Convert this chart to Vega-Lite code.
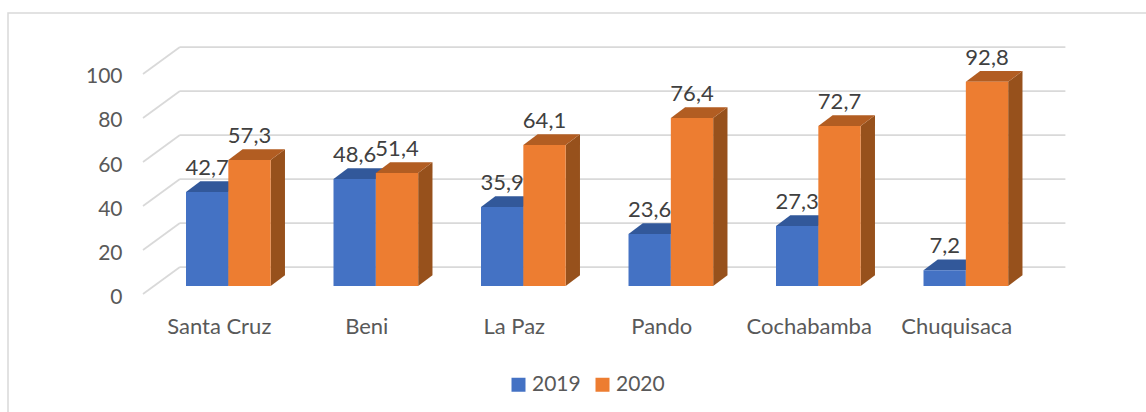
{"$schema":"https://vega.github.io/schema/vega-lite/v6.json","width":1140,"height":401,"autosize":"none","padding":{"left":8,"top":13,"right":0,"bottom":0},"background":"white","view":{"stroke":"#d9d9d9","strokeWidth":1.5,"fill":"white"},"config":{"font":"Lato"},
"datasets":{"ticks":[{"tick":0},{"tick":20},{"tick":40},{"tick":60},{"tick":80},{"tick":100}]},
"data":{"values":[
{"region":"Santa Cruz","year":"2019","value":42.7},{"region":"Santa Cruz","year":"2020","value":57.3},
{"region":"Beni","year":"2019","value":48.6},{"region":"Beni","year":"2020","value":51.4},
{"region":"La Paz","year":"2019","value":35.9},{"region":"La Paz","year":"2020","value":64.1},
{"region":"Pando","year":"2019","value":23.6},{"region":"Pando","year":"2020","value":76.4},
{"region":"Cochabamba","year":"2019","value":27.3},{"region":"Cochabamba","year":"2020","value":72.7},
{"region":"Chuquisaca","year":"2019","value":7.2},{"region":"Chuquisaca","year":"2020","value":92.8}]},
"transform":[
{"calculate":"indexof(['Santa Cruz','Beni','La Paz','Pando','Cochabamba','Chuquisaca'],datum.region)","as":"idx"},
{"calculate":"datum.idx+0.278+(datum.year=='2020'?0.287:0)","as":"xl"},
{"calculate":"datum.xl+0.287","as":"xr"},
{"calculate":"datum.xl+0.1435","as":"xc"},
{"calculate":"replace(format(datum.value,'.1f'),'.',',')","as":"label"}],
"layer":[
{"data":{"name":"ticks"},"transform":[{"calculate":"[0,1]","as":"d"},{"flatten":["d"]},{"calculate":"-0.0136+datum.d*0.2506","as":"gx"},{"calculate":"datum.tick-3.6+datum.d*12.2","as":"gy"}],
"mark":{"type":"line","stroke":"#d9d9d9","strokeWidth":1.75},
"encoding":{"x":{"field":"gx","type":"quantitative","scale":{"domain":[-0.9288,6.8],"nice":false,"zero":false},
"axis":{"title":null,"values":[0.5,1.5,2.5,3.5,4.5,5.5],"labelExpr":"['Santa Cruz','Beni','La Paz','Pando','Cochabamba','Chuquisaca'][floor(datum.value)]","domain":false,"ticks":false,"grid":false,"offset":-98,"labelPadding":0,"labelFontSize":22,"labelColor":"#595959","labelFont":"Lato","labelOverlap":false,"labelFlush":false,"labelBound":false}},
"y":{"field":"gy","type":"quantitative","scale":{"domain":[-58.18,124.09],"nice":false,"zero":false},
"axis":{"title":null,"values":[0,20,40,60,80,100],"domain":false,"ticks":false,"grid":false,"offset":-114,"labelPadding":0,"labelOffset":11,"labelFontSize":21,"labelColor":"#595959","labelFont":"Lato","labelOverlap":false,"labelBound":false}},"detail":{"field":"tick"}}},
{"data":{"name":"ticks"},"transform":[{"calculate":"datum.tick+8.6","as":"gy"}],
"mark":{"type":"rule","stroke":"#d9d9d9","strokeWidth":1.75},
"encoding":{"x":{"datum":0.237,"type":"quantitative","scale":{"domain":[-0.9288,6.8],"nice":false,"zero":false}},"x2":{"datum":6.24},"y":{"field":"gy","type":"quantitative","scale":{"domain":[-58.18,124.09],"nice":false,"zero":false}}}},
{"transform":[{"calculate":"[0,1]","as":"d"},{"flatten":["d"]},{"calculate":"datum.xr+datum.d*0.097","as":"sx"},{"calculate":"datum.value+datum.d*4.9","as":"sy"},{"calculate":"datum.d*4.9","as":"sy2"}],
"mark":{"type":"area"},
"encoding":{"x":{"field":"sx","type":"quantitative","scale":{"domain":[-0.9288,6.8],"nice":false,"zero":false}},"y":{"field":"sy","type":"quantitative","scale":{"domain":[-58.18,124.09],"nice":false,"zero":false}},"y2":{"field":"sy2"},"detail":[{"field":"region"},{"field":"year"}],"fill":{"condition":{"test":"datum.year=='2019'","value":"#2c4f8e"},"value":"#97511c"}}},
{"transform":[{"calculate":"[0,1]","as":"d"},{"flatten":["d"]},{"calculate":"datum.xl+datum.d*0.097","as":"tx"},{"calculate":"datum.xr+datum.d*0.097","as":"tx2"},{"calculate":"datum.value+datum.d*4.9","as":"ty"}],
"mark":{"type":"area","orient":"horizontal"},
"encoding":{"y":{"field":"ty","type":"quantitative","scale":{"domain":[-58.18,124.09],"nice":false,"zero":false}},"x":{"field":"tx","type":"quantitative","scale":{"domain":[-0.9288,6.8],"nice":false,"zero":false}},"x2":{"field":"tx2"},"detail":[{"field":"region"},{"field":"year"}],"fill":{"condition":{"test":"datum.year=='2019'","value":"#32589a"},"value":"#b25d22"}}},
{"mark":{"type":"rect"},
"encoding":{"x":{"field":"xl","type":"quantitative","scale":{"domain":[-0.9288,6.8],"nice":false,"zero":false}},"x2":{"field":"xr"},"y":{"field":"value","type":"quantitative","scale":{"domain":[-58.18,124.09],"nice":false,"zero":false}},"y2":{"datum":0},
"color":{"field":"year","type":"nominal","scale":{"domain":["2019","2020"],"range":["#4472c4","#ed7d31"]},"legend":{"title":null,"orient":"none","legendX":500,"legendY":361,"direction":"horizontal","symbolType":"square","symbolSize":196,"symbolStrokeWidth":0,"labelFontSize":21,"labelColor":"#595959","labelFont":"Lato","columnPadding":11,"labelOffset":3}}}},
{"mark":{"type":"text","fontSize":22,"color":"#404040","font":"Lato","yOffset":-24,"baseline":"middle","align":"center"},
"encoding":{"x":{"field":"xc","type":"quantitative","scale":{"domain":[-0.9288,6.8],"nice":false,"zero":false}},
"y":{"field":"value","type":"quantitative","scale":{"domain":[-58.18,124.09],"nice":false,"zero":false}},
"text":{"field":"label","type":"nominal"}}}
]}
